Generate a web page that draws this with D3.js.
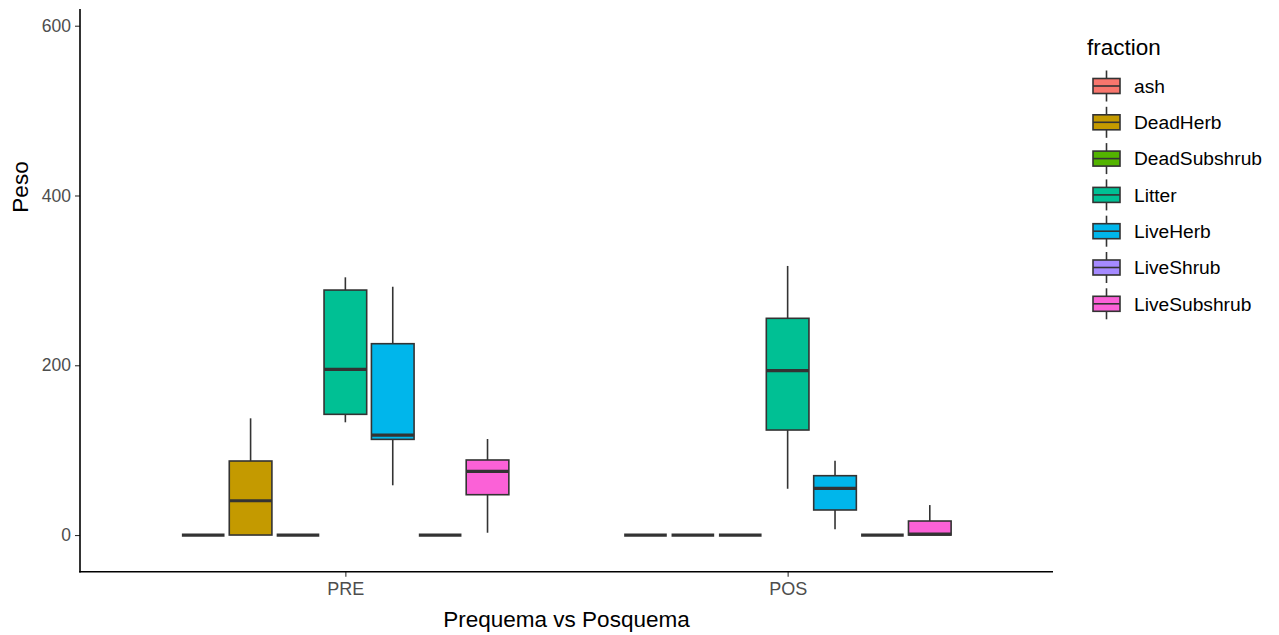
<!DOCTYPE html>
<html><head><meta charset="utf-8">
<script src="https://cdn.jsdelivr.net/npm/d3@7"></script>
<style>body{margin:0;background:#fff;} text{font-family:"Liberation Sans",Arial,sans-serif;}</style>
</head><body><svg id="c" width="1279" height="635"></svg>
<script>
const phases = ["PRE", "POS"];
const fractions = ["ash","DeadHerb","DeadSubshrub","Litter","LiveHerb","LiveShrub","LiveSubshrub"];
const colors = ["#F8766D","#C49A00","#53B400","#00C094","#00B6EB","#A58AFF","#FB61D7"];
// stats indexed [phase][fraction]
const whiskerLow = [[0,0,0,132.8,58.6,0,2.7],[0,0,0,54.5,6.7,0,0]];
const q1         = [[0,0,0,142.2,112.7,0,47.5],[0,0,0,123.7,29.5,0,0]];
const median     = [[0,40.4,0,195.2,117.8,0,75],[0,0,0,193.6,55,0,1]];
const q3         = [[0,87.2,0,288.6,225.4,0,88.4],[0,0,0,255.3,69.9,0,16.5]];
const whiskerHigh= [[0,137.5,0,303.6,292.5,0,113.1],[0,0,0,317,87.5,0,35.3]];
const yTicks = [0,200,400,600];

const svg = d3.select("#c");
const L=80,R=1053,T=9,B=571.7;
const x = d3.scalePoint().domain(phases).range([L,R]).padding(0.6);
const dodgeW = x.step()*0.75;
const xf = d3.scaleBand().domain(fractions).range([-dodgeW/2,dodgeW/2]).paddingInner(0.1).paddingOuter(0.05);
const y = d3.scaleLinear().domain([-43.2,619.7]).range([B,T]);
const color = d3.scaleOrdinal().domain(fractions).range(colors);

const data=[];
phases.forEach((p,pi)=>fractions.forEach((f,fi)=>data.push({p,f,lo:whiskerLow[pi][fi],q1:q1[pi][fi],med:median[pi][fi],q3:q3[pi][fi],hi:whiskerHigh[pi][fi]})));

const g = svg.append("g");
const box = g.selectAll("g.box").data(data).join("g").attr("class","box")
  .attr("transform",d=>`translate(${x(d.p)+xf(d.f)},0)`);
const bw = xf.bandwidth();
box.append("line").attr("x1",bw/2).attr("x2",bw/2).attr("y1",d=>y(d.hi)).attr("y2",d=>y(d.q3)).attr("stroke","#333").attr("stroke-width",1.6);
box.append("line").attr("x1",bw/2).attr("x2",bw/2).attr("y1",d=>y(d.q1)).attr("y2",d=>y(d.lo)).attr("stroke","#333").attr("stroke-width",1.6);
box.append("rect").attr("x",0).attr("width",bw).attr("y",d=>y(d.q3)).attr("height",d=>Math.max(0,y(d.q1)-y(d.q3)))
  .attr("fill",d=>color(d.f)).attr("stroke","#333").attr("stroke-width",1.6);
box.append("line").attr("x1",0).attr("x2",bw).attr("y1",d=>y(d.med)).attr("y2",d=>y(d.med)).attr("stroke","#333").attr("stroke-width",3.2);

// axes
const ya = svg.append("g").attr("transform",`translate(${L},0)`).call(d3.axisLeft(y).tickValues(yTicks).tickSize(5).tickPadding(4));
ya.select(".domain").remove();
ya.selectAll(".tick line").attr("stroke","#333").attr("stroke-width",1.1);
ya.selectAll(".tick text").attr("fill","#4d4d4d").style("font-size","17.5px").style("font-family","Liberation Sans, Arial, sans-serif");
const xa = svg.append("g").attr("transform",`translate(0,${B})`).call(d3.axisBottom(x).tickSize(5).tickPadding(6));
xa.select(".domain").remove();
xa.selectAll(".tick line").attr("stroke","#333").attr("stroke-width",1.1);
xa.selectAll(".tick text").attr("fill","#4d4d4d").style("font-size","18px").style("font-family","Liberation Sans, Arial, sans-serif");
svg.append("line").attr("x1",L).attr("x2",L).attr("y1",T).attr("y2",B+0.8).attr("stroke","#000").attr("stroke-width",1.6);
svg.append("line").attr("x1",L-0.8).attr("x2",R).attr("y1",B).attr("y2",B).attr("stroke","#000").attr("stroke-width",1.6);

svg.append("text").attr("x",(L+R)/2).attr("y",627).attr("text-anchor","middle").style("font-size","22.5px").attr("fill","#000").text("Prequema vs Posquema");
svg.append("text").attr("transform","translate(28,187) rotate(-90)").attr("text-anchor","middle").style("font-size","22.5px").attr("fill","#000").text("Peso");

// legend
const lg = svg.append("g");
lg.append("text").attr("x",1087).attr("y",55).style("font-size","22.5px").attr("fill","#000").text("fraction");
const items = lg.selectAll("g.item").data(fractions).join("g").attr("class","item")
  .attr("transform",(d,i)=>`translate(1093,${86+i*36.3})`);
items.append("line").attr("x1",13.5).attr("x2",13.5).attr("y1",-15.5).attr("y2",15.5).attr("stroke","#333").attr("stroke-width",1.6);
items.append("rect").attr("x",0).attr("y",-7.5).attr("width",27).attr("height",15).attr("fill",d=>color(d)).attr("stroke","#333").attr("stroke-width",1.6);
items.append("line").attr("x1",0).attr("x2",27).attr("y1",0).attr("y2",0).attr("stroke","#333").attr("stroke-width",1.6);
items.append("text").attr("x",41).attr("y",0).attr("dy","0.35em").style("font-size","19.2px").attr("fill","#000").text(d=>d);
</script></body></html>
